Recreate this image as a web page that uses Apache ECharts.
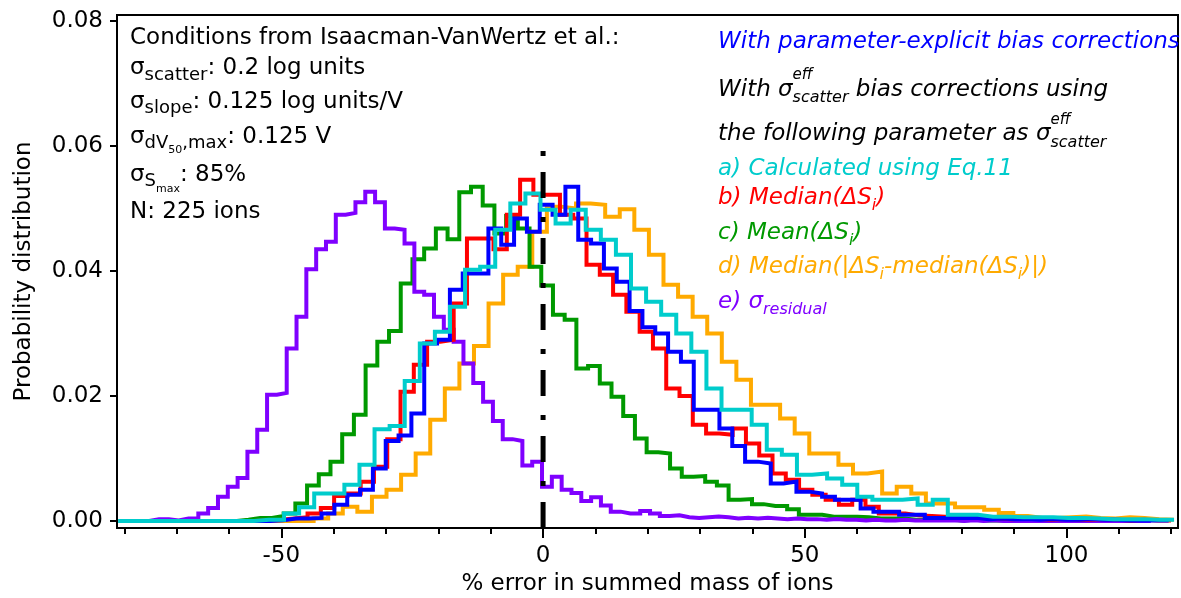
<!DOCTYPE html>
<html>
<head>
<meta charset="utf-8">
<title>% error in summed mass of ions</title>
<script src="https://cdn.jsdelivr.net/npm/echarts@6/dist/echarts.min.js"></script>
<style>
    html, body { margin: 0; padding: 0; background: #fff; }
    #chartDiv { width: 1181px; height: 598px; }
</style>
</head>
<body>
<div id="chartDiv"></div>
<script>
// ticks
var xTicks = [-80, -70, -60, -50, -40, -30, -20, -10, 0, 10, 20, 30, 40, 50, 60, 70, 80, 90, 100, 110, 120];
var xLabelTicks = [-50, 0, 50, 100];
var yTicks = [0, 0.02, 0.04, 0.06, 0.08];
var xMin = -81.4, xMax = 121.3;
var yMin = -0.00112, yMax = 0.08096;

// histograms: first bin edge, bin width, bin heights (probability)
var calcStart = -81.19, calcWidth = 2.882;   // a) Calculated using Eq.11
var calcValues = [0, 0, 0, 0, 0, 0, 0, 0, 0, 0.0002, 0.0002, 0.0012, 0.0022, 0.0044, 0.0044, 0.0058,
    0.0090, 0.0147, 0.0152, 0.0224, 0.0284, 0.0303, 0.0343, 0.0402, 0.0407, 0.0466, 0.0508, 0.0524,
    0.0498, 0.0476, 0.0498, 0.0466, 0.0450, 0.0426, 0.0372, 0.0351, 0.0330, 0.0300, 0.0271, 0.0212,
    0.0178, 0.0178, 0.0154, 0.0114, 0.0106, 0.0074, 0.0076, 0.0068, 0.0058, 0.0039, 0.0034, 0.0034,
    0.0036, 0.0026, 0.0034, 0.0010, 0.0010, 0.0007, 0.0007, 0.0006, 0.0006, 0.0006, 0.0005, 0.0005,
    0.0004, 0.0003, 0.0003, 0.0003, 0.0002, 0.0002];

var medianStart = -80.53, medianWidth = 2.538;   // b) Median(ΔSi)
var medianValues = [0, 0, 0, 0, 0, 0, 0, 0, 0, 0, 0.0001, 0.0002, 0.0004, 0.0006, 0.0012, 0.0021,
    0.0040, 0.0044, 0.0063, 0.0087, 0.0131, 0.0207, 0.0250, 0.0287, 0.0290, 0.0348, 0.0452, 0.0452,
    0.0435, 0.0490, 0.0546, 0.0522, 0.0522, 0.0490, 0.0484, 0.0410, 0.0394, 0.0362, 0.0335, 0.0303,
    0.0276, 0.0212, 0.0200, 0.0154, 0.0140, 0.0138, 0.0148, 0.0124, 0.0105, 0.0076, 0.0066, 0.0050,
    0.0042, 0.0034, 0.0026, 0.0034, 0.0023, 0.0012, 0.0012, 0.0009, 0.0008, 0.0007, 0.0006, 0.0005,
    0.0005, 0.0004, 0.0003, 0.0004, 0.0003, 0.0002, 0.0003, 0.0002, 0.0002, 0.0003, 0.0002, 0.0001,
    0.0002, 0.0001, 0.0001];

var meanStart = -80.88, meanWidth = 2.237;   // c) Mean(ΔSi)
var meanValues = [0, 0, 0, 0, 0, 0, 0, 0, 0, 0, 0.0002, 0.0005, 0.0005, 0.0008, 0.0012, 0.0028,
    0.0057, 0.0075, 0.0095, 0.0139, 0.0170, 0.0249, 0.0287, 0.0304, 0.0380, 0.0419, 0.0436, 0.0468,
    0.0451, 0.0526, 0.0535, 0.0505, 0.0460, 0.0488, 0.0468, 0.0407, 0.0377, 0.0330, 0.0322, 0.0244,
    0.0248, 0.0220, 0.0199, 0.0168, 0.0132, 0.0110, 0.0108, 0.0084, 0.0071, 0.0072, 0.0063, 0.0057,
    0.0034, 0.0035, 0.0027, 0.0024, 0.0024, 0.0019, 0.0010, 0.0010, 0.0007, 0.0007, 0.0007, 0.0006,
    0.0004, 0.0004, 0.0004, 0.0002, 0.0002, 0.0002, 0.0002, 0.0001, 0.0002, 0.0001, 0.0001, 0.0001,
    0.0001, 0, 0.0001, 0];

var madStart = -80.04, madWidth = 2.785;   // d) Median(|ΔSi-median(ΔSi)|)
var madValues = [0, 0, 0, 0, 0, 0, 0, 0, 0, 0, 0, 0, 0, 0.0004, 0.0012, 0.0023, 0.0015, 0.0039,
    0.0050, 0.0074, 0.0108, 0.0162, 0.0212, 0.0252, 0.0280, 0.0348, 0.0394, 0.0407, 0.0463, 0.0503,
    0.0500, 0.0508, 0.0506, 0.0487, 0.0499, 0.0466, 0.0426, 0.0378, 0.0359, 0.0327, 0.0300, 0.0255,
    0.0226, 0.0186, 0.0186, 0.0164, 0.0140, 0.0108, 0.0108, 0.0090, 0.0076, 0.0079, 0.0044, 0.0055,
    0.0044, 0.0028, 0.0028, 0.0022, 0.0022, 0.0018, 0.0013, 0.0008, 0.0005, 0.0005, 0.0006, 0.0007,
    0.0005, 0.0004, 0.0006, 0.0005, 0.0003, 0.0002];

var residualStart = -80.87, residualWidth = 1.876;   // e) σresidual
var residualValues = [0, 0, 0, 0.0003, 0.0003, 0.0001, 0.0004, 0.0004, 0.0012, 0.0021, 0.0039,
    0.0055, 0.0069, 0.0111, 0.0146, 0.0202, 0.0205, 0.0276, 0.0327, 0.0403, 0.0435, 0.0447, 0.0490,
    0.0493, 0.0510, 0.0527, 0.0510, 0.0468, 0.0466, 0.0444, 0.0367, 0.0362, 0.0327, 0.0306, 0.0287,
    0.0252, 0.0221, 0.0191, 0.0160, 0.0131, 0.0128, 0.0089, 0.0095, 0.0055, 0.0071, 0.0050, 0.0045,
    0.0032, 0.0038, 0.0025, 0.0015, 0.0012, 0.0012, 0.0016, 0.0012, 0.0008, 0.0009, 0.0006, 0.0005,
    0.0006, 0.0007, 0.0006, 0.0004, 0.0005, 0.0004, 0.0005, 0.0004, 0.0003, 0.0004, 0.0003, 0.0003,
    0.0002, 0.0003, 0.0002, 0.0002, 0.0001, 0.0002, 0.0001, 0.0001, 0.0002, 0.0001, 0.0001, 0.0001,
    0.0001, 0.0001, 0, 0.0001, 0, 0.0001, 0, 0, 0, 0, 0, 0, 0, 0, 0, 0, 0, 0, 0, 0, 0, 0];

var explicitStart = -79.10, explicitWidth = 2.452;   // parameter-explicit bias corrections
var explicitValues = [0, 0, 0, 0, 0, 0, 0, 0, 0, 0, 0, 0.0001, 0.0004, 0.0004, 0.0005, 0.0012,
    0.0026, 0.0042, 0.0050, 0.0084, 0.0128, 0.0137, 0.0172, 0.0284, 0.0290, 0.0370, 0.0396, 0.0396,
    0.0468, 0.0442, 0.0484, 0.0463, 0.0506, 0.0490, 0.0535, 0.0450, 0.0444, 0.0404, 0.0383, 0.0336,
    0.0310, 0.0300, 0.0271, 0.0255, 0.0178, 0.0178, 0.0148, 0.0120, 0.0095, 0.0092, 0.0060, 0.0063,
    0.0047, 0.0044, 0.0039, 0.0034, 0.0034, 0.0020, 0.0015, 0.0015, 0.0010, 0.0010, 0.0005, 0.0005,
    0.0005, 0.0005, 0.0003, 0.0004, 0.0003, 0.0003, 0.0002, 0.0003, 0.0002, 0.0002, 0.0003, 0.0002,
    0.0002, 0.0001, 0.0001, 0.0001, 0.0001];

// dash-dot reference line at 0 %
var refX = 0, refTop = 0.0592;

var FONT = '"DejaVu Sans"';
var BASE = 0.35;   // baseline offset from text middle, in em

var ctx2d = document.createElement('canvas').getContext('2d');
function fontOf(size, italic) { return (italic ? 'italic ' : '') + size + 'px ' + FONT; }
function widthOf(str, size, italic) { ctx2d.font = fontOf(size, italic); return ctx2d.measureText(str).width; }

// one line of text built from pieces [text, size, dy]; {sup, sub} pieces share the same x
function textLine(x, baseline, pieces, color, italic) {
    var els = [];
    pieces.forEach(function (p) {
        var group = Array.isArray(p) ? [p] : [p.sup, p.sub];
        var adv = 0;
        group.forEach(function (q) {
            els.push({
                type: 'text', silent: true, z: 100,
                x: x, y: baseline + q[2] - BASE * q[1],
                style: { text: q[0], font: fontOf(q[1], italic), fill: color, align: 'left', verticalAlign: 'middle' }
            });
            adv = Math.max(adv, widthOf(q[0], q[1], italic));
        });
        x += adv;
    });
    return els;
}

function histPoints(start, width, values) {
    var pts = values.map(function (v, i) { return [start + i * width, v]; });
    pts.push([start + values.length * width, values[values.length - 1]]);
    return pts;
}

function histSeries(name, color, start, width, values) {
    return {
        name: name, type: 'line', step: 'end', symbol: 'none', silent: true,
        data: histPoints(start, width, values),
        lineStyle: { color: color, width: 4, join: 'miter', cap: 'butt' }
    };
}

var F = 23, S = 18, SS = 11, R = 16;
var texts = [].concat(
    textLine(130, 46, [['Conditions from Isaacman-VanWertz et al.:', F, 0]], '#000'),
    textLine(130, 76, [['σ', F, 0], ['scatter', S, 6], [': 0.2 log units', F, 0]], '#000'),
    textLine(130, 110, [['σ', F, 0], ['slope', S, 5], [': 0.125 log units/V', F, 0]], '#000'),
    textLine(130, 145, [['σ', F, 0], ['dV', S, 5], ['50', SS, 9], [',max', S, 5], [': 0.125 V', F, 0]], '#000'),
    textLine(130, 183, [['σ', F, 0], ['S', S, 5], ['max', SS, 10], [': 85%', F, 0]], '#000'),
    textLine(130, 220, [['N: 225 ions', F, 0]], '#000'),

    textLine(718, 50, [['With parameter-explicit bias corrections', F, 0]], '#0000ff', true),
    textLine(718, 98, [['With ', F, 0], ['σ', F, 0], { sup: ['eff', 15, -18], sub: ['scatter', R, 5] }, [' bias corrections using', F, 0]], '#000', true),
    textLine(718, 142, [['the following parameter as ', F, 0], ['σ', F, 0], { sup: ['eff', 15, -17], sub: ['scatter', R, 6] }], '#000', true),
    textLine(718, 177, [['a) Calculated using Eq.11', F, 0]], '#00cccc', true),
    textLine(718, 206, [['b) Median(ΔS', F, 0], ['i', R, 5], [')', F, 0]], '#ff0000', true),
    textLine(718, 241, [['c) Mean(ΔS', F, 0], ['i', R, 5], [')', F, 0]], '#009900', true),
    textLine(718, 275, [['d) Median(|ΔS', F, 0], ['i', R, 5], ['-median(ΔS', F, 0], ['i', R, 5], [')|)', F, 0]], '#ffaa00', true),
    textLine(718, 310, [['e) σ', F, 0], ['residual', R, 5]], '#7f00ff', true)
);

var axisText = { fontFamily: FONT, fontSize: 23, color: '#000' };
var blackLine = { color: '#000', width: 2 };

var option = {
    animation: false,
    backgroundColor: '#fff',
    grid: {
        left: 117, right: 3, top: 15, bottom: 70,
        show: true, borderColor: '#000', borderWidth: 2,
        containLabel: false, outerBoundsMode: 'none'
    },
    xAxis: [
        {
            type: 'value', min: xMin, max: xMax, position: 'bottom',
            axisLine: { show: true, onZero: false, lineStyle: blackLine },
            axisTick: { show: true, customValues: xTicks, length: 6, lineStyle: blackLine },
            axisLabel: { show: false },
            splitLine: { show: false }
        },
        {
            type: 'value', min: xMin, max: xMax, position: 'bottom',
            axisLine: { show: false, onZero: false },
            axisTick: { show: true, customValues: xLabelTicks, length: 10, lineStyle: blackLine },
            axisLabel: Object.assign({ customValues: xLabelTicks, margin: 17 }, axisText),
            splitLine: { show: false },
            name: '% error in summed mass of ions', nameLocation: 'middle', nameGap: 44,
            nameTextStyle: axisText
        }
    ],
    yAxis: {
        type: 'value', min: yMin, max: yMax,
        axisLine: { show: true, onZero: false, lineStyle: blackLine },
        axisTick: { show: true, customValues: yTicks, length: 7, lineStyle: blackLine },
        axisLabel: Object.assign({
            customValues: yTicks, margin: 14,
            formatter: function (v) { return v.toFixed(2); }
        }, axisText),
        splitLine: { show: false },
        name: 'Probability distribution', nameLocation: 'middle', nameGap: 81,
        nameTextStyle: axisText
    },
    graphic: texts,
    series: [
        histSeries('d', '#ffaa00', madStart, madWidth, madValues),
        histSeries('c', '#009900', meanStart, meanWidth, meanValues),
        histSeries('e', '#7f00ff', residualStart, residualWidth, residualValues),
        histSeries('b', '#ff0000', medianStart, medianWidth, medianValues),
        histSeries('explicit', '#0000ff', explicitStart, explicitWidth, explicitValues),
        histSeries('a', '#00cccc', calcStart, calcWidth, calcValues),
        {
            name: 'zero', type: 'line', symbol: 'none', silent: true, z: 5,
            data: [[refX, refTop], [refX, yMin]],
            lineStyle: { color: '#000', width: 5, type: [5, 16, 26, 19], cap: 'butt' }
        }
    ]
};

var myChart = echarts.init(document.getElementById('chartDiv'));
myChart.setOption(option);
</script>
</body>
</html>
